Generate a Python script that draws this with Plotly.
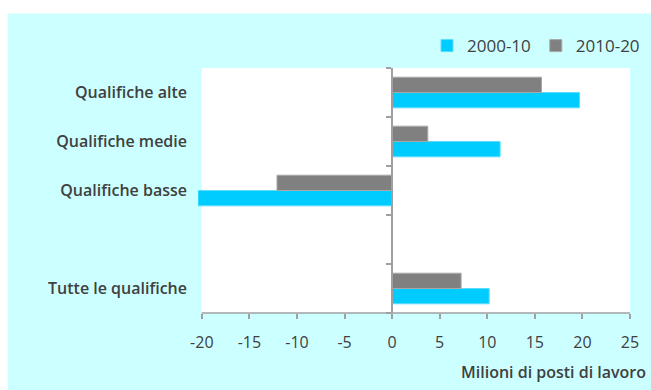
import plotly.graph_objects as go

# Categories from top to bottom (the blank slot separates the total row)
categories = ["Qualifiche alte", "Qualifiche medie", "Qualifiche basse", "", "Tutte le qualifiche"]
series_names = ["2000-10", "2010-20"]
values_2000_10 = [19.7, 11.35, -20.4, None, 10.2]
values_2010_20 = [15.7, 3.75, -12.1, None, 7.25]
x_ticks = [-20, -15, -10, -5, 0, 5, 10, 15, 20, 25]
x_tick_labels = [str(v) for v in x_ticks]
x_title = "Milioni di posti di lavoro"

x_min, x_max = x_ticks[0], x_ticks[-1]
# a little room on the left so the longest negative bar can run past -20
x_range = [x_min - 0.4, x_max]

# Figure geometry (pixels)
W, H = 651, 390
FRAME_L, MR, MT, MB = 202, 21, 67.5, 77
k = (W - MR - FRAME_L) / (x_max - x_min)
ML = FRAME_L - (x_min - x_range[0]) * k
PW, PH = W - ML - MR, H - MT - MB

def px_x(p):
    return (p - ML) / PW

def px_y(p):
    return (H - MB - p) / PH

n = len(categories)
y_pos = [n - 1 - i for i in range(n)]

CYAN = "#00CCFF"
GREY = "#808080"
PANEL = "#CCFFFF"
AXIS = "#A0A0A0"
TEXT = "#404040"
FONT = "Open Sans"

fig = go.Figure()
fig.add_trace(go.Bar(
    name=series_names[0], x=values_2000_10, y=y_pos, orientation="h",
    marker=dict(color=CYAN, line=dict(color="#5CDDFF", width=1)),
))
fig.add_trace(go.Bar(
    name=series_names[1], x=values_2010_20, y=y_pos, orientation="h",
    marker=dict(color=GREY, line=dict(color="#A8A8A8", width=1)),
))
# Carrier for the vertical axis drawn through x = 0
fig.add_trace(go.Scatter(x=[None], y=[None], yaxis="y2", showlegend=False,
                         hoverinfo="skip"))

fig.update_layout(
    width=W, height=H,
    margin=dict(l=ML, r=MR, t=MT, b=MB, pad=0, autoexpand=False),
    paper_bgcolor="white",
    plot_bgcolor="rgba(0,0,0,0)",
    barmode="group",
    bargap=0.375,
    bargroupgap=0,
    font=dict(family=FONT, color=TEXT, size=14),
    xaxis=dict(
        range=x_range, tickvals=x_ticks, ticktext=x_tick_labels,
        ticks="outside", ticklen=5, tickcolor=AXIS, tickwidth=1.5,
        showline=False, showgrid=False, zeroline=False,
        tickfont=dict(size=16, color=TEXT), ticklabelstandoff=10,
    ),
    yaxis=dict(
        range=[-0.5, n - 0.5], tickvals=y_pos, ticktext=categories,
        showgrid=False, zeroline=False, showline=False, ticks="",
        tickfont=dict(size=16, color=TEXT, weight=600), ticklabelstandoff=10,
    ),
    yaxis2=dict(
        overlaying="y", anchor="free",
        position=(0 - x_range[0]) / (x_range[1] - x_range[0]),
        range=[-0.5, n - 0.5],
        tickvals=[p + 0.5 for p in range(-1, n)],
        ticks="outside", ticklen=5, tickcolor=AXIS, tickwidth=1.5,
        showline=True, linecolor=AXIS, linewidth=1.5,
        showticklabels=False, showgrid=False, zeroline=False,
    ),
    legend=dict(
        orientation="h", x=px_x(645), xanchor="right", y=px_y(45.5),
        yanchor="middle", font=dict(size=17, color=TEXT),
        bgcolor="rgba(0,0,0,0)", itemwidth=30,
    ),
    shapes=[
        # light cyan chart panel
        dict(type="rect", xref="paper", yref="paper", layer="below",
             x0=px_x(8), x1=px_x(W + 2), y0=px_y(H + 2), y1=px_y(13),
             fillcolor=PANEL, line=dict(width=0)),
        # white plotting frame spanning the tick range
        dict(type="rect", xref="x", yref="paper", layer="below",
             x0=x_min, x1=x_max, y0=0, y1=1,
             fillcolor="white", line=dict(width=0)),
        # bottom axis line
        dict(type="line", xref="x", yref="paper", layer="above",
             x0=x_min, x1=x_max, y0=0, y1=0,
             line=dict(color=AXIS, width=1.5)),
    ],
    annotations=[dict(
        text=x_title, xref="paper", yref="paper", x=px_x(648), y=px_y(372),
        xanchor="right", yanchor="middle", showarrow=False,
        font=dict(size=16, color=TEXT, weight=600),
    )],
)

fig.write_html("out.html")
